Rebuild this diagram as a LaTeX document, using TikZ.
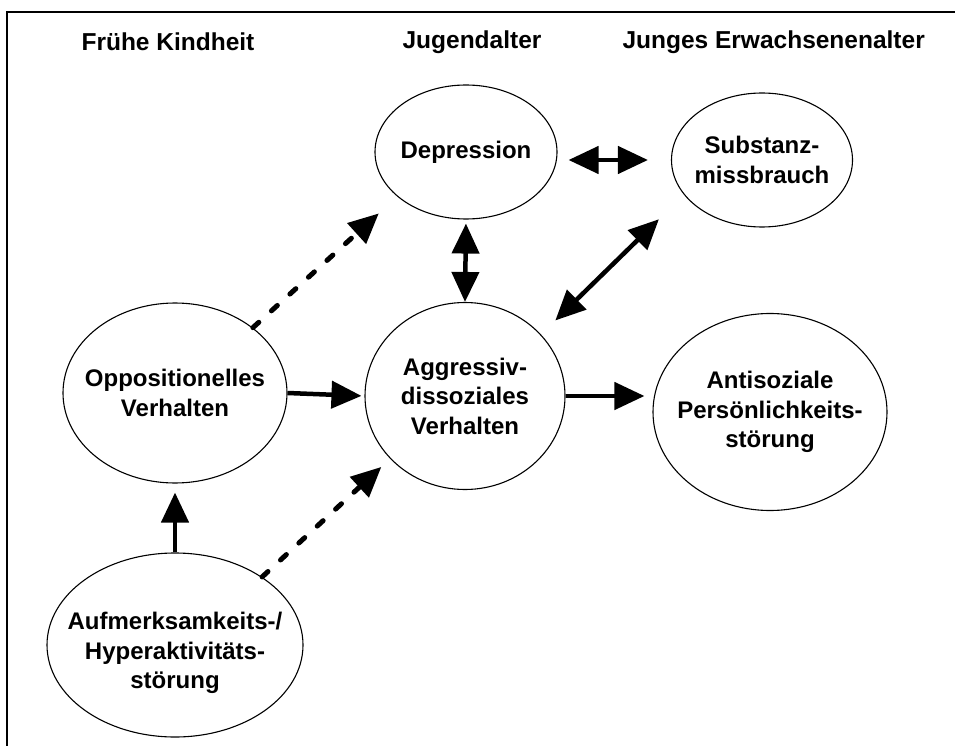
\documentclass[tikz,border=0pt]{standalone}
\usepackage{fontspec}
\setmainfont{Liberation Sans}
\usepackage{tikz}
\usetikzlibrary{
    arrows.meta,
    shapes.geometric
}

\begin{document}
\begin{tikzpicture}[x=1pt,y=-1pt,>={Triangle[length=30pt,width=27pt]},line join=miter]
    \tikzstyle{stage}=[ellipse, draw, line width=1.1pt, inner sep=0pt]
    \tikzstyle{stagetext}=[font=\bfseries\fontsize{24}{29.5}\selectfont, align=center]
    \tikzstyle{heading}=[font=\bfseries\fontsize{24.5}{28}\selectfont]
    \tikzstyle{link}=[line width=4.5pt]
    \tikzstyle{maybe}=[line width=5pt, dash pattern=on 8pt off 17pt, line cap=round]
	\useasboundingbox (0,0) rectangle (955,746);
	\draw [line width=2pt] (7,760) -- (7,12) -- (970,12);

	\node [heading, anchor=west] (early) at (78,42) {Frühe Kindheit};
	\node [heading] (youth) at (472,42) {Jugendalter};
	\node [heading, anchor=west] (adult) at (619,42) {Junges Erwachsenenalter};

	\node [stage, minimum width=182pt, minimum height=134pt, label={[stagetext]center:Depression}] (dep) at (466,152) {};
	\node [stage, minimum width=181pt, minimum height=134pt, label={[stagetext]center:{Substanz-\\missbrauch}}] (sub) at (762,160) {};

	\node [stage, minimum width=224pt, minimum height=180pt, label={[stagetext]center:{Oppositionelles\\Verhalten}}] (opp) at (175,393) {};
	\node [stage, minimum width=200pt, minimum height=187pt, label={[stagetext]center:{Aggressiv-\\dissoziales\\Verhalten}}] (agg) at (465,396) {};
	\node [stage, minimum width=234pt, minimum height=197pt, label={[stagetext]center:{Antisoziale\\Persönlichkeits-\\störung}}] (anti) at (770,412) {};

	\node [stage, minimum width=256pt, minimum height=184pt, label={[stagetext, yshift=-8pt]center:{Aufmerksamkeits-/\\Hyperaktivitäts-\\störung}}] (adhs) at (175,645) {};

	\draw [link, ->, shorten >=3pt] (opp.east) -- (agg.west);
	\draw [link, ->, shorten >=8pt] (agg.east) -- (agg.east -| anti.west);
	\draw [link, <->, shorten <=4pt] (dep.south) -- (agg.north);
	\draw [link, <->, shorten <=11pt, shorten >=23pt] (sub.west -| dep.east) -- (sub.west);
	\draw [link, <->, shorten <=20pt, shorten >=35pt] (agg.39) -- (sub.204);
	\draw [link, ->, shorten >=9pt] (adhs.north) -- (opp.south);

	\draw [maybe, ->, shorten >=25pt] (opp.40) -- (dep.213);
	\draw [maybe, ->, shorten >=12pt] (adhs.38) -- (agg.220);
\end{tikzpicture}
\end{document}
